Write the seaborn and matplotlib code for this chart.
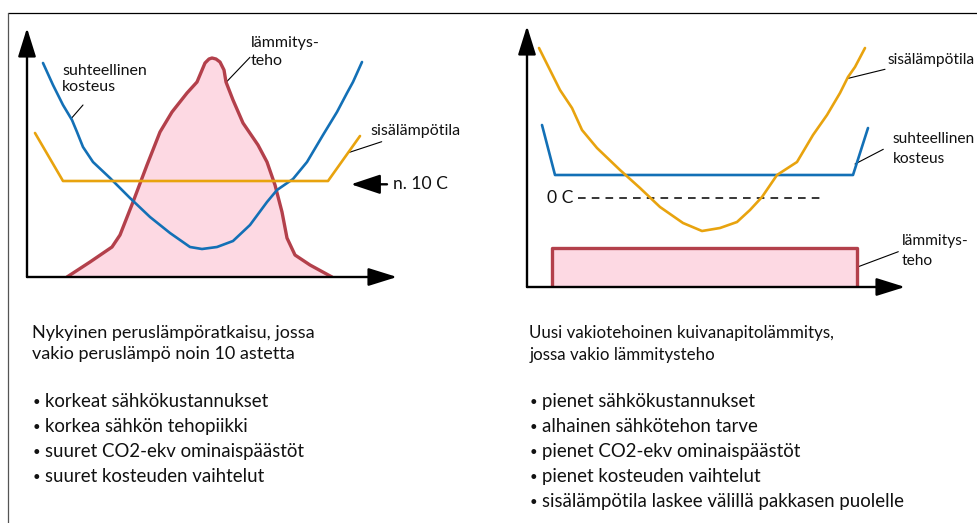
import matplotlib
matplotlib.use("Agg")
import matplotlib.pyplot as plt
import seaborn as sns

sns.set_theme(style="white")
plt.rcParams['font.family'] = ['Lato', 'DejaVu Sans']

# ---------------- data ----------------
# Left chart: current base-heat solution (x = time of year, y = level)
left_rh_x = [16, 26, 36, 45, 50, 56, 66, 83, 103, 123, 143, 163, 175, 190, 206, 223, 240, 250, 266, 280, 296, 310, 320, 326, 335]
left_rh_y = [214, 192, 172, 157, 145, 130, 115, 99, 79, 60, 44, 30, 28, 30, 36, 52, 75, 87, 98, 115, 142, 165, 184, 195, 215]
left_temp_x = [8, 36, 301, 333]
left_temp_y = [144, 96, 96, 141]
left_heat_x = [40, 63, 85, 93, 106, 120, 133, 145, 160, 170, 178, 182, 185, 189, 193, 197, 199, 206, 216, 231, 240, 248, 255, 260, 268, 283, 305]
left_heat_y = [0, 15, 30, 42, 75, 112, 145, 165, 184, 195, 214, 218, 219, 218, 215, 207, 195, 177, 154, 132, 115, 92, 65, 39, 22, 12, 0]

# Right chart: new constant-power drying heating
right_temp_x = [12, 23, 33, 45, 55, 70, 93, 113, 133, 156, 175, 193, 210, 223, 235, 250, 270, 286, 300, 313, 321, 328, 338]
right_temp_y = [239, 217, 197, 179, 157, 139, 117, 99, 80, 64, 56, 59, 65, 77, 90, 112, 125, 152, 172, 194, 210, 220, 239]
right_rh_x = [15, 28, 326, 341]
right_rh_y = [162, 112, 112, 159]
right_heat_x = [25, 25, 330, 330]
right_heat_y = [0, 39, 39, 0]
zero_line_x = [51, 295]
zero_level = 89

left_bullets = ["korkeat sähkökustannukset", "korkea sähkön tehopiikki",
                "suuret CO2-ekv ominaispäästöt", "suuret kosteuden vaihtelut"]
right_bullets = ["pienet sähkökustannukset", "alhainen sähkötehon tarve",
                 "pienet CO2-ekv ominaispäästöt", "pienet kosteuden vaihtelut",
                 "sisälämpötila laskee välillä pakkasen puolelle"]
left_title = "Nykyinen peruslämpöratkaisu, jossa\nvakio peruslämpö noin 10 astetta"
right_title = "Uusi vakiotehoinen kuivanapitolämmitys,\njossa vakio lämmitysteho"

# ---------------- styles ----------------
BLUE = "#1370b6"
ORANGE = "#e8a30e"
RED = "#b3404b"
PINK = "#fdd9e3"
TXT = "#111111"
W, H = 978, 523

fig = plt.figure(figsize=(9.78, 5.23), dpi=100)

def axes_px(x0, y0, x1, y1):
    return fig.add_axes([x0 / W, 1 - y1 / H, (x1 - x0) / W, (y1 - y0) / H])

ov = fig.add_axes([0, 0, 1, 1])
ov.set_xlim(0, W)
ov.set_ylim(H, 0)
ov.axis("off")

def draw_arrows(ax):
    kw = dict(arrowstyle="-|>,head_length=0.8,head_width=0.25", lw=1.7,
              color="black", shrinkA=0, shrinkB=0, mutation_scale=22)
    ax.annotate("", xy=(1, 0), xytext=(0, 0), xycoords="axes fraction",
                arrowprops=kw, annotation_clip=False)
    ax.annotate("", xy=(0, 1), xytext=(0, 0), xycoords="axes fraction",
                arrowprops=kw, annotation_clip=False)

def clean(ax, xmax, ymax):
    ax.set_xlim(0, xmax)
    ax.set_ylim(0, ymax)
    ax.set_axis_off()
    ax.patch.set_alpha(0)

# ---------------- left chart ----------------
axL = axes_px(27, 28, 397, 277)
clean(axL, 370, 249)
axL.fill_between(left_heat_x, left_heat_y, 0, color=PINK, lw=0, zorder=1)
sns.lineplot(x=left_heat_x, y=left_heat_y, sort=False, estimator=None,
             color=RED, lw=2.4, ax=axL, zorder=3)
sns.lineplot(x=left_rh_x, y=left_rh_y, sort=False, estimator=None,
             color=BLUE, lw=1.9, ax=axL, zorder=4)
sns.lineplot(x=left_temp_x, y=left_temp_y, sort=False, estimator=None,
             color=ORANGE, lw=1.9, ax=axL, zorder=4)
draw_arrows(axL)

# ---------------- right chart ----------------
axR = axes_px(527, 26, 905, 287)
clean(axR, 378, 261)
axR.fill_between(right_heat_x[1:3], right_heat_y[1:3], 0, color=PINK, lw=0, zorder=1)
sns.lineplot(x=right_heat_x, y=right_heat_y, sort=False, estimator=None,
             color=RED, lw=2.4, ax=axR, zorder=3)
sns.lineplot(x=right_rh_x, y=right_rh_y, sort=False, estimator=None,
             color=BLUE, lw=1.9, ax=axR, zorder=4)
sns.lineplot(x=right_temp_x, y=right_temp_y, sort=False, estimator=None,
             color=ORANGE, lw=1.9, ax=axR, zorder=4)
axR.plot(zero_line_x, [zero_level, zero_level], color="black", lw=1.1,
         dashes=(5, 4), zorder=2)
draw_arrows(axR)

# ---------------- border ----------------
ov.plot([8, W], [13.3, 13.3], color="black", lw=0.9)
ov.plot([8, 8], [13.3, H], color="#555555", lw=0.9)

# ---------------- annotations ----------------
def label(x, y, s, size=11.5, ls=1.25):
    ov.text(x, y, s, fontsize=size, color=TXT, ha="left", va="center",
            linespacing=ls)

def leader(x0, y0, x1, y1):
    ov.plot([x0, x1], [y0, y1], color="black", lw=0.8)

label(62, 79, "suhteellinen\nkosteus")
leader(83, 105, 71.7, 118)
label(251, 52, "lämmitys-\nteho", ls=1.45)
leader(250, 57.3, 226.7, 81.7)
label(370, 131, "sisälämpötila")
leader(381.7, 141.7, 348.3, 152.7)
ov.annotate("", xy=(351, 184.3), xytext=(387, 184.3),
            arrowprops=dict(arrowstyle="-|>,head_length=0.9,head_width=0.3",
                            lw=1.7, color="black", shrinkA=0, shrinkB=0,
                            mutation_scale=20))
label(393, 184, "n. 10 C", size=12.6)

label(888, 60, "sisälämpötila", size=11.2)
leader(885, 69.3, 848.3, 78.3)
label(892.5, 149, "suhteellinen\nkosteus", size=11.2, ls=1.5)
leader(883.3, 149.3, 855, 164)
label(902, 251, "lämmitys-\nteho", size=11.2, ls=1.5)
leader(898.3, 251.7, 858.3, 266.7)
label(547, 198, "0 C", size=12.6)

# ---------------- body text ----------------
BODY = 13.4

def bullets(x, items):
    for i, b in enumerate(items):
        y = 401.7 + 25 * i
        ov.text(x + 0.5, y + 0.5, "•", fontsize=9.5, ha="left", va="center", color=TXT)
        ov.text(x + 13, y, b, fontsize=BODY, ha="left", va="center", color=TXT)

ov.text(31.7, 343.3, left_title, fontsize=13.0, ha="left", va="center",
        linespacing=1.38, color=TXT)
bullets(31.7, left_bullets)

ov.text(529.3, 344, right_title, fontsize=12.2, ha="left", va="center",
        linespacing=1.42, color=TXT)
bullets(529.3, right_bullets)

fig.savefig("out.png", dpi=100)
